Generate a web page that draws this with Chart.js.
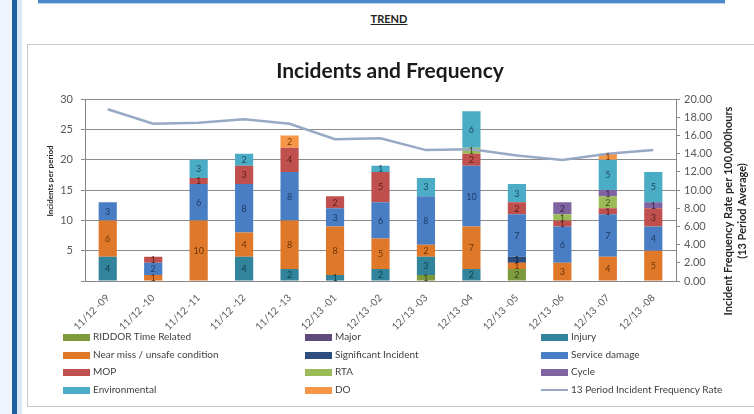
<!DOCTYPE html>
<html>
<head>
<meta charset="utf-8">
<script src="https://cdn.jsdelivr.net/npm/chart.js@4.4.0/dist/chart.umd.min.js"></script>
<style>
  body { margin: 0; width: 754px; height: 414px; overflow: hidden; background: #fff; font-family: Lato, sans-serif; position: relative; }
  .band { position: absolute; top: 0; height: 414px; }
  #topline { position: absolute; left: 38px; top: 0; width: 687px; height: 3px; background: #4a8ac9; border-bottom: 1px solid #b9d3ec; }
  #trend { position: absolute; left: 0; width: 778px; top: 12px; text-align: center; font-weight: bold; font-size: 11px; text-decoration: underline; color: #222; }
  #box { position: absolute; left: 27px; top: 44px; width: 740px; height: 361px; border: 1px solid #c9c9c9; }
  #wrap { position: absolute; left: 28px; top: 46px; width: 724px; height: 284px; }
  .item { position: absolute; font-size: 10px; color: #404040; white-space: nowrap; height: 14px; line-height: 14px; }
  .sw { display: inline-block; width: 27px; height: 7px; margin-right: 3px; vertical-align: middle; }
  .ln { display: inline-block; width: 27px; height: 2px; margin-right: 3px; vertical-align: middle; }
</style>
</head>
<body>
<div class="band" style="left:0;width:12px;background:#eef4fb"></div>
<div class="band" style="left:12px;width:5px;background:#1d5fa3"></div>
<div class="band" style="left:17px;width:5px;background:#dbe8f5"></div>
<div id="topline"></div>
<div id="trend">TREND</div>
<div id="box"></div>
<div id="wrap"><canvas id="incidents" width="724" height="284"></canvas></div>
<div id="legend"></div>

<script>
const periods = ['11/12 -09', '11/12 -10', '11/12 -11', '11/12 -12', '11/12 -13', '12/13 -01', '12/13 -02',
  '12/13 -03', '12/13 -04', '12/13 -05', '12/13 -06', '12/13 -07', '12/13 -08'];

// incidents per period, by type (stacked bottom to top in this order)
const riddor        = [0, 0, 0, 0, 0, 0, 0, 1, 0, 2, 0, 0, 0];
const major         = [0, 0, 0, 0, 0, 0, 0, 0, 0, 0, 0, 0, 0];
const injury        = [4, 0, 0, 4, 2, 1, 2, 3, 2, 0, 0, 0, 0];
const nearMiss      = [6, 1, 10, 4, 8, 8, 5, 2, 7, 1, 3, 4, 5];
const significant   = [0, 0, 0, 0, 0, 0, 0, 0, 0, 1, 0, 0, 0];
const serviceDamage = [3, 2, 6, 8, 8, 3, 6, 8, 10, 7, 6, 7, 4];
const mop           = [0, 1, 1, 3, 4, 2, 5, 0, 2, 2, 1, 1, 3];
const rta           = [0, 0, 0, 0, 0, 0, 0, 0, 1, 0, 1, 2, 0];
const cycle         = [0, 0, 0, 0, 0, 0, 0, 0, 0, 0, 2, 1, 1];
const environmental = [0, 0, 3, 2, 0, 0, 1, 3, 6, 3, 0, 5, 5];
const dangerousOcc  = [0, 0, 0, 0, 2, 0, 0, 0, 0, 0, 0, 1, 0];

// 13 period incident frequency rate per 100,000 hours
const frequencyRate = [18.9, 17.3, 17.4, 17.8, 17.3, 15.6, 15.7, 14.4, 14.5, 13.8, 13.3, 14.0, 14.4];

const leftTicks = { min: 0, max: 30, step: 5 };
const rightTicks = { min: 0, max: 20, step: 2 };

const series = [
  ['RIDDOR Time Related', riddor, '#7e9a3e', '#34441a'],
  ['Major', major, '#604a7b', '#2a1f38'],
  ['Injury', injury, '#31849b', '#123f4a'],
  ['Near miss / unsafe condition', nearMiss, '#e0782a', '#6b3508'],
  ['Significant Incident', significant, '#2c4d7e', '#0e1e36'],
  ['Service damage', serviceDamage, '#4a7ec4', '#1d3a66'],
  ['MOP', mop, '#c0504d', '#5c1d1b'],
  ['RTA', rta, '#9bbb59', '#3f5219'],
  ['Cycle', cycle, '#8064a2', '#35264a'],
  ['Environmental', environmental, '#4bacc6', '#1a4b5a'],
  ['DO', dangerousOcc, '#f79646', '#7a3a0a']
];

const datasets = series.map(([label, data, color, labelColor]) => ({
  type: 'bar',
  label: label,
  data: data,
  backgroundColor: color,
  labelColor: labelColor,
  yAxisID: 'y',
  categoryPercentage: 1,
  barPercentage: 0.4
}));
datasets.push({
  type: 'line',
  label: '13 Period Incident Frequency Rate',
  data: frequencyRate,
  borderColor: '#98a9c6',
  borderWidth: 2.5,
  pointRadius: 0,
  tension: 0,
  yAxisID: 'y1',
  order: -1
});

// value written in the middle of each stacked segment
const segmentLabels = {
  id: 'segmentLabels',
  afterDatasetsDraw(chart) {
    const ctx = chart.ctx;
    ctx.save();
    ctx.font = '9px Lato';
    ctx.textAlign = 'center';
    ctx.textBaseline = 'middle';
    chart.data.datasets.forEach((ds, i) => {
      if (ds.type !== 'bar') return;
      chart.getDatasetMeta(i).data.forEach((bar, j) => {
        const v = ds.data[j];
        if (!v) return;
        ctx.fillStyle = ds.labelColor;
        ctx.fillText(v, bar.x, (bar.y + bar.base) / 2 + 0.5);
      });
    });
    ctx.restore();
  }
};

// rotated axis titles, both reading bottom to top
const axisTitles = {
  id: 'axisTitles',
  afterDraw(chart) {
    const ctx = chart.ctx;
    const drawUp = (text, x, y, font) => {
      ctx.save();
      ctx.translate(x, y);
      ctx.rotate(-Math.PI / 2);
      ctx.font = font;
      ctx.fillStyle = '#262626';
      ctx.textAlign = 'center';
      ctx.textBaseline = 'middle';
      ctx.fillText(text, 0, 0);
      ctx.restore();
    };
    drawUp('Incidents per period', 22, 135, 'bold 8px Lato');
    drawUp('Incident Frequency Rate per 100,000hours', 700, 165, 'bold 11px Lato');
    drawUp('(13 Period Average)', 714, 165, 'bold 11px Lato');
  }
};

const chart = new Chart(document.getElementById('incidents'), {
  data: { labels: periods, datasets: datasets },
  plugins: [segmentLabels, axisTitles],
  options: {
    responsive: false,
    animation: false,
    layout: { padding: 0 },
    plugins: {
      legend: { display: false },
      tooltip: { enabled: false },
      title: {
        display: true,
        text: 'Incidents and Frequency',
        color: '#1a1a1a',
        font: { family: 'Lato', size: 21, weight: 'bold' },
        padding: { top: 13, bottom: 15 }
      }
    },
    scales: {
      x: {
        stacked: true,
        grid: { display: false },
        border: { color: '#868686' },
        ticks: { color: '#595959', font: { family: 'Lato', size: 10 }, maxRotation: 45, minRotation: 45, autoSkip: false, padding: 3 },
        afterFit: s => { s.height = 49; }
      },
      y: {
        stacked: true,
        position: 'left',
        min: leftTicks.min,
        max: leftTicks.max,
        ticks: {
          stepSize: leftTicks.step,
          color: '#595959',
          font: { family: 'Lato', size: 11 },
          padding: 8,
          callback: v => (v === 0 ? '' : v)
        },
        grid: { color: '#8c8c8c', tickLength: 4 },
        border: { color: '#868686' },
        afterFit: s => { s.width = 57; }
      },
      y1: {
        position: 'right',
        min: rightTicks.min,
        max: rightTicks.max,
        ticks: {
          stepSize: rightTicks.step,
          color: '#595959',
          font: { family: 'Lato', size: 11 },
          padding: 4,
          callback: v => v.toFixed(2)
        },
        grid: { drawOnChartArea: false, color: '#868686', tickLength: 4 },
        border: { color: '#868686' },
        afterFit: s => { s.width = 76; }
      }
    }
  }
});

// legend laid out in three columns, filled row by row
const legendCols = [63, 305, 541];
const legendRows = [336, 354, 371, 389];
const legendEl = document.getElementById('legend');
chart.data.datasets.forEach((ds, i) => {
  const item = document.createElement('div');
  item.className = 'item';
  item.style.left = legendCols[i % 3] + 'px';
  item.style.top = (legendRows[Math.floor(i / 3)] - 7) + 'px';
  const mark = document.createElement('span');
  if (ds.type === 'line') {
    mark.className = 'ln';
    mark.style.background = ds.borderColor;
  } else {
    mark.className = 'sw';
    mark.style.background = ds.backgroundColor;
  }
  item.appendChild(mark);
  item.appendChild(document.createTextNode(ds.label));
  legendEl.appendChild(item);
});
</script>
</body>
</html>
